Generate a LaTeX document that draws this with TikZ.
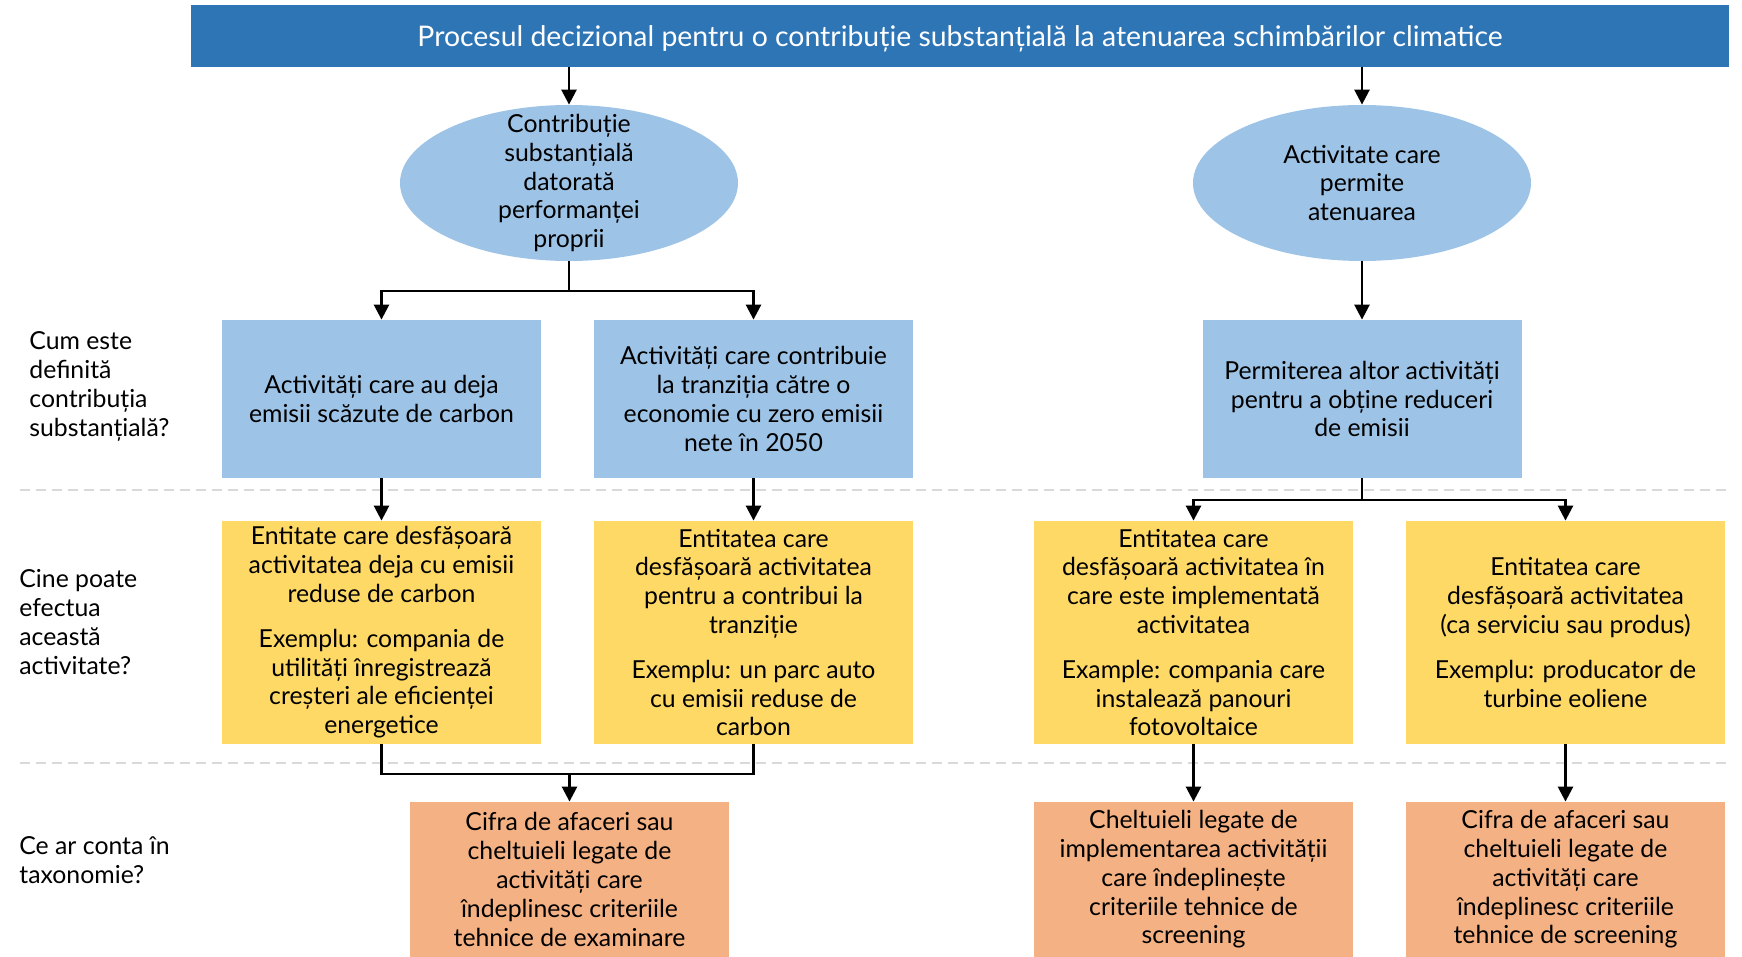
\documentclass[tikz,border=0pt]{standalone}
\usepackage{fontspec}
\setmainfont{Lato}
\usetikzlibrary{shapes.geometric,arrows.meta}

\definecolor{titleblue}{RGB}{46,117,182}
\definecolor{lightblue}{RGB}{157,195,230}
\definecolor{boxyellow}{RGB}{255,217,102}
\definecolor{boxorange}{RGB}{244,177,131}
\definecolor{rulegray}{RGB}{217,217,217}

\newcommand{\boxfont}{\fontsize{12.4}{14.4}\selectfont}

\tikzset{
  titlebar/.style={rectangle, fill=titleblue, text=white, minimum width=769pt,
    minimum height=31pt, text depth=0pt, font=\fontsize{14.2}{16}\selectfont},
  oval/.style={ellipse, fill=lightblue, minimum width=169pt, minimum height=78pt,
    inner xsep=0pt, inner ysep=-14pt, align=center, font=\boxfont},
  bluebox/.style={rectangle, fill=lightblue, minimum width=159.5pt,
    minimum height=79pt, inner sep=0pt, align=center, font=\boxfont},
  yellowbox/.style={rectangle, fill=boxyellow, minimum width=159.5pt,
    minimum height=111.5pt, inner sep=0pt, align=center, font=\boxfont},
  orangebox/.style={rectangle, fill=boxorange, minimum width=159.5pt,
    minimum height=77.5pt, inner sep=0pt, align=center, font=\boxfont},
  question/.style={anchor=west, align=left, inner sep=0pt, font=\boxfont},
  flow/.style={-{Triangle[length=7.5pt,width=7.5pt]}, line width=1.3pt},
  link/.style={line width=1.3pt},
  sep/.style={rulegray, line width=1pt, dash pattern=on 5pt off 3pt}
}

\begin{document}
\begin{tikzpicture}[x=0.5pt,y=-0.5pt]
        % \draw[help lines,step=100] (0,0) grid (1742,957);
        \useasboundingbox (0,0) rectangle (1742,957);

        % row separators
        \draw[sep] (20,490) -- (1729,490);
        \draw[sep] (20,763) -- (1729,763);

        \node[titlebar] (title) at (960,36) {Procesul decizional pentru o contribuție substanțială la atenuarea schimbărilor climatice};

        \node[oval] (own) at (569,183) {Contribuție\\substanțială\\datorată\\performanței\\proprii};
        \node[oval] (enabling) at (1362,183) {Activitate care\\permite\\atenuarea};

        \node[bluebox] (lowcarbon) at (381.5,399) {Activități care au deja\\emisii scăzute de carbon};
        \node[bluebox] (transition) at (753.5,399) {Activități care contribuie\\la tranziția către o\\economie cu zero emisii\\nete în 2050};
        \node[bluebox] (enable) at (1362,399) {Permiterea altor activități\\pentru a obține reduceri\\de emisii};

        \node[yellowbox] (entlow) at (381.5,632.5) {Entitate care desfășoară\\activitatea deja cu emisii\\reduse de carbon\\[8pt]Exemplu: compania de\\utilități înregistrează\\creșteri ale eficienței\\energetice};
        \node[yellowbox] (enttrans) at (753.5,632.5) {Entitatea care\\desfășoară activitatea\\pentru a contribui la\\tranziție\\[8pt]Exemplu: un parc auto\\cu emisii reduse de\\carbon};
        \node[yellowbox] (entimpl) at (1193.5,632.5) {Entitatea care\\desfășoară activitatea în\\care este implementată\\activitatea\\[8pt]Example: compania care\\instalează panouri\\fotovoltaice};
        \node[yellowbox] (entprod) at (1565.5,632.5) {Entitatea care\\desfășoară activitatea\\(ca serviciu sau produs)\\[8pt]Exemplu: producator de\\turbine eoliene};

        \node[orangebox] (turnover) at (569.5,879.5) {Cifra de afaceri sau\\cheltuieli legate de\\activități care\\îndeplinesc criteriile\\tehnice de examinare};
        \node[orangebox] (capex) at (1193.5,879.5) {Cheltuieli legate de\\implementarea activității\\care îndeplinește\\criteriile tehnice de\\screening};
        \node[orangebox] (prodturn) at (1565.5,879.5) {Cifra de afaceri sau\\cheltuieli legate de\\activități care\\îndeplinesc criteriile\\tehnice de screening};

        \node[question] (qhow) at (29,386.5) {Cum este\\definită\\contribuția\\substanțială?};
        \node[question] (qwho) at (19,622) {Cine poate\\efectua\\această\\activitate?};
        \node[question] (qcount) at (19,860) {Ce ar conta în\\taxonomie?};

        \coordinate (splitown) at (569,291);
        \coordinate (splitenable) at (1362,500);
        \coordinate (joinown) at (569.5,774);

        % title to the two kinds of contribution
        \draw[flow] (title.south -| own.north) -- (own.north);
        \draw[flow] (title.south -| enabling.north) -- (enabling.north);

        % own performance to its definitions
        \draw[link] (own.south) -- (splitown);
        \draw[flow] (splitown) -| (lowcarbon.north);
        \draw[flow] (splitown) -| (transition.north);

        % enabling to its definition
        \draw[flow] (enabling.south) -- (enable.north);

        % definitions to entities
        \draw[flow] (lowcarbon.south) -- (entlow.north);
        \draw[flow] (transition.south) -- (enttrans.north);
        \draw[link] (enable.south) -- (splitenable);
        \draw[flow] (splitenable) -| (entimpl.north);
        \draw[flow] (splitenable) -| (entprod.north);

        % entities to what counts
        \draw[link] (entlow.south) |- (joinown);
        \draw[link] (enttrans.south) |- (joinown);
        \draw[flow] (joinown) -- (turnover.north);
        \draw[flow] (entimpl.south) -- (capex.north);
        \draw[flow] (entprod.south) -- (prodturn.north);

      \end{tikzpicture}
\end{document}
